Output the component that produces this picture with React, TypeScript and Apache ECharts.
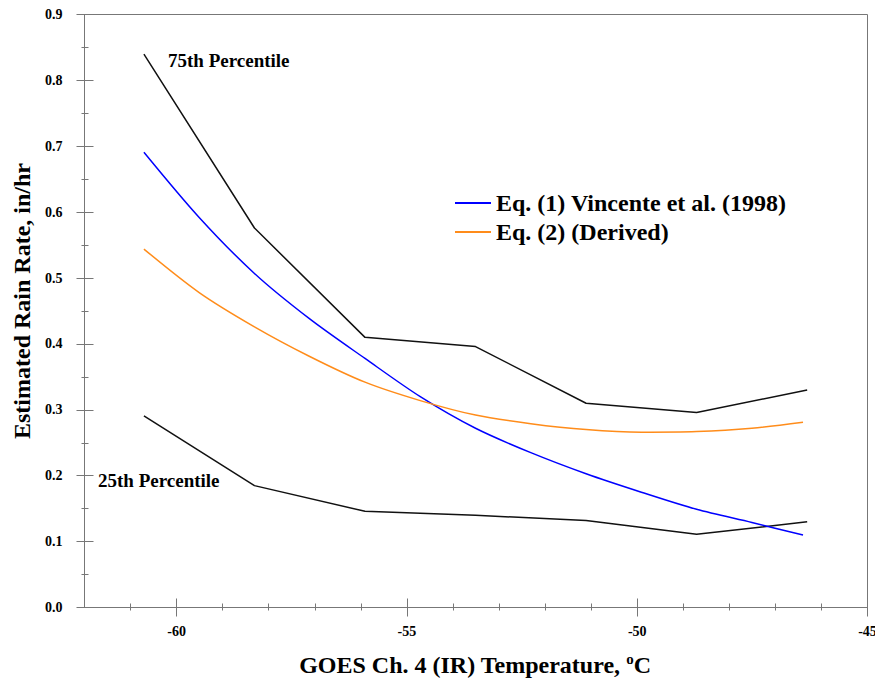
import React, { useEffect, useRef } from "react";
import * as echarts from "echarts";

const pctTemps = [-60.71, -58.31, -55.91, -53.51, -51.11, -48.71, -46.31];
const p75 = [0.84, 0.576, 0.41, 0.396, 0.31, 0.296, 0.33];
const p25 = [0.291, 0.185, 0.146, 0.14, 0.132, 0.111, 0.13];

const eqTemps = [-60.71, -59.51, -58.31, -57.11, -55.91, -54.71, -53.51, -52.31, -51.11, -49.91, -48.71, -47.51, -46.4];
const eq1 = [0.691, 0.592, 0.507, 0.438, 0.378, 0.32, 0.272, 0.235, 0.203, 0.175, 0.149, 0.129, 0.11];
const eq2 = [0.544, 0.478, 0.426, 0.381, 0.342, 0.314, 0.292, 0.279, 0.27, 0.266, 0.267, 0.272, 0.281];

const xMajor = [-60, -55, -50, -45];
const xMinor = [-61, -59, -58, -57, -56, -54, -53, -52, -51, -49, -48, -47, -46];
const yMinor = [0.05, 0.15, 0.25, 0.35, 0.45, 0.55, 0.65, 0.75, 0.85];

const seriesNames = ["Eq. (1) Vincente et al. (1998)", "Eq. (2) (Derived)"];

const FONT = "'Liberation Serif', 'Times New Roman', serif";
const AXC = "#777";

function pairs(xs: number[], ys: number[]) {
  return xs.map((x, i) => [x, ys[i]]);
}

export default function App() {
  const ref = useRef<HTMLDivElement>(null);
  useEffect(() => {
    const chart = echarts.init(ref.current!, null, { renderer: "svg" });
    const grid = { left: 84.5, right: 7.5, top: 14.5, bottom: 76.5 };
    const baseX = (extra: any) => ({
      type: "value",
      min: -62,
      max: -45,
      position: "bottom",
      splitLine: { show: false },
      axisLine: { show: false },
      axisLabel: { show: false },
      ...extra,
    });
    const baseY = (extra: any) => ({
      type: "value",
      min: 0,
      max: 0.9,
      interval: 0.1,
      position: "left",
      splitLine: { show: false },
      axisLine: { show: false },
      axisLabel: { show: false },
      ...extra,
    });
    const option: any = {
      animation: false,
      backgroundColor: "#fff",
      grid: {
        ...grid,
        outerBoundsMode: "none",
        containLabel: false,
        show: true,
        borderColor: AXC,
        borderWidth: 1,
        backgroundColor: "transparent",
      },
      xAxis: [
        baseX({
          axisLine: { show: true, lineStyle: { color: AXC, width: 1 } },
          axisTick: { show: true, inside: false, length: 9, customValues: xMajor, lineStyle: { color: AXC } },
          axisLabel: {
            show: true,
            customValues: xMajor,
            margin: 17,
            fontFamily: FONT,
            fontWeight: "bold",
            fontSize: 14,
            color: "#000",
          },
        }),
        baseX({ axisTick: { show: true, inside: true, length: 9, customValues: xMajor, lineStyle: { color: AXC } } }),
        baseX({ axisTick: { show: true, inside: false, length: 3, customValues: xMinor, lineStyle: { color: AXC } } }),
        baseX({ axisTick: { show: true, inside: true, length: 4, customValues: xMinor, lineStyle: { color: AXC } } }),
      ],
      yAxis: [
        baseY({
          axisLine: { show: true, lineStyle: { color: AXC, width: 1 } },
          axisTick: { show: true, inside: false, length: 8, lineStyle: { color: AXC } },
          axisLabel: {
            show: true,
            margin: 22,
            formatter: (v: number) => v.toFixed(1),
            fontFamily: FONT,
            fontWeight: "bold",
            fontSize: 14,
            color: "#000",
          },
        }),
        baseY({ axisTick: { show: true, inside: true, length: 9, lineStyle: { color: AXC } } }),
        baseY({ axisTick: { show: true, inside: false, length: 3, customValues: yMinor, lineStyle: { color: AXC } } }),
        baseY({ axisTick: { show: true, inside: true, length: 4, customValues: yMinor, lineStyle: { color: AXC } } }),
      ],
      legend: {
        orient: "vertical",
        left: 450,
        top: 186,
        itemWidth: 36,
        itemHeight: 2,
        itemGap: 5,
        icon: "rect",
        data: seriesNames,
        textStyle: { fontFamily: FONT, fontWeight: "bold", fontSize: 24, color: "#000" },
      },
      series: [
        {
          name: "75th Percentile",
          type: "line",
          data: pairs(pctTemps, p75),
          showSymbol: false,
          lineStyle: { color: "#111", width: 1.5 },
          itemStyle: { color: "#111" },
        },
        {
          name: "25th Percentile",
          type: "line",
          data: pairs(pctTemps, p25),
          showSymbol: false,
          lineStyle: { color: "#111", width: 1.5 },
          itemStyle: { color: "#111" },
        },
        {
          name: seriesNames[0],
          type: "line",
          data: pairs(eqTemps, eq1),
          smooth: 0.3,
          showSymbol: false,
          lineStyle: { color: "#0000ff", width: 1.5 },
          itemStyle: { color: "#0000ff" },
        },
        {
          name: seriesNames[1],
          type: "line",
          data: pairs(eqTemps, eq2),
          smooth: 0.3,
          showSymbol: false,
          lineStyle: { color: "#ff8c1a", width: 1.5 },
          itemStyle: { color: "#ff8c1a" },
        },
      ],
      graphic: [
        {
          type: "text",
          x: 168,
          y: 60,
          style: {
            text: "75th Percentile",
            fontFamily: FONT,
            fontWeight: "bold",
            fontSize: 19,
            fill: "#000",
            verticalAlign: "middle",
          },
        },
        {
          type: "text",
          x: 98,
          y: 480,
          style: {
            text: "25th Percentile",
            fontFamily: FONT,
            fontWeight: "bold",
            fontSize: 19,
            fill: "#000",
            verticalAlign: "middle",
          },
        },
        {
          type: "text",
          x: 22,
          y: 301,
          rotation: Math.PI / 2,
          style: {
            text: "Estimated Rain Rate, in/hr",
            fontFamily: FONT,
            fontWeight: "bold",
            fontSize: 24,
            fill: "#000",
            align: "center",
            verticalAlign: "middle",
          },
        },
        {
          type: "text",
          x: 475,
          y: 664,
          style: {
            text: "{a|GOES Ch. 4 (IR) Temperature, }{s|o}{a|C}",
            align: "center",
            verticalAlign: "middle",
            rich: {
              a: { fontFamily: FONT, fontWeight: "bold", fontSize: 24, fill: "#000", lineHeight: 26, verticalAlign: "bottom" },
              s: { fontFamily: FONT, fontWeight: "bold", fontSize: 15, fill: "#000", lineHeight: 26, verticalAlign: "top" },
            },
          },
        },
      ],
    };
    chart.setOption(option);
    return () => chart.dispose();
  }, []);
  return (
    <div
      ref={ref}
      style={{ position: "fixed", left: 0, top: 0, width: 875, height: 684, background: "#fff" }}
    />
  );
}
